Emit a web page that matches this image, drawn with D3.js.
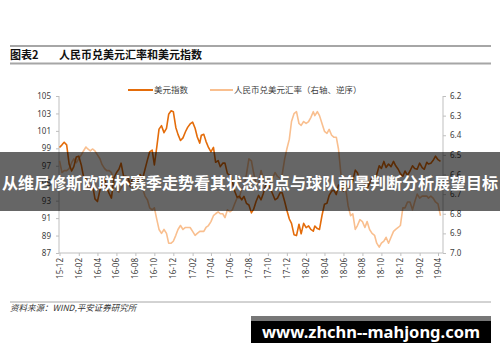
<!DOCTYPE html>
<html>
<head>
<meta charset="utf-8">
<script src="https://cdn.jsdelivr.net/npm/d3@7"></script>
<style>
  body { margin: 0; background: #fff; }
  svg { display: block; font-family: "Noto Sans", "Noto Sans CJK SC", sans-serif; }
</style>
</head>
<body>
<div id="chart"></div>
<script>
// months on the x axis, four readings per month (last month only two)
const months = ["2015-12","2016-01","2016-02","2016-03","2016-04","2016-05","2016-06","2016-07","2016-08","2016-09","2016-10","2016-11",
  "2016-12","2017-01","2017-02","2017-03","2017-04","2017-05","2017-06","2017-07","2017-08","2017-09","2017-10","2017-11",
  "2017-12","2018-01","2018-02","2018-03","2018-04","2018-05","2018-06","2018-07","2018-08","2018-09","2018-10","2018-11",
  "2018-12","2019-01","2019-02","2019-03","2019-04"];

const usdIndex = [
  [99.1, 99.4, 99.7, 99.4], [97.2, 96.4, 96.9, 98.0], [98.1, 97.1, 95.8, 95.5], [94.6, 94.3, 94.9, 93.2],
  [92.9, 94.2, 95.0, 95.5], [94.5, 93.8, 93.3, 95.6], [96.2, 96.6, 97.3, 95.8], [95.8, 95.6, 94.6, 95.7],
  [95.4, 95.2, 96.0, 95.5], [96.6, 97.7, 98.6, 98.8], [97.1, 99.2, 101.2, 101.6], [100.8, 101.3, 102.9, 103.3],
  [103.2, 101.4, 100.6, 99.9], [100.2, 100.9, 101.4, 101.8], [102.0, 101.3, 100.3, 99.6], [100.5, 100.6, 99.8, 99.1],
  [98.6, 99.1, 97.4, 97.6], [96.9, 97.3, 97.3, 96.1], [95.9, 95.2, 94.1, 93.4], [93.5, 93.1, 93.5, 92.7],
  [92.5, 91.6, 92.0, 92.9], [93.6, 93.1, 93.8, 94.8], [94.9, 94.4, 93.8, 93.1], [93.3, 93.9, 93.9, 92.9],
  [91.9, 90.9, 90.4, 89.1], [89.0, 90.3, 89.2, 90.4], [89.9, 90.1, 89.7, 89.5], [90.1, 89.8, 89.7, 91.3],
  [92.6, 92.7, 93.6, 94.1], [94.2, 93.7, 94.8, 94.6], [94.1, 94.8, 94.5, 94.7], [95.3, 96.5, 96.2, 95.2],
  [95.2, 95.0, 94.4, 95.0], [95.7, 95.3, 96.0, 97.0], [96.7, 97.5, 96.8, 97.2], [96.9, 97.5, 97.0, 96.6],
  [96.1, 95.8, 96.4, 95.9], [96.4, 97.0, 96.7, 96.6], [97.3, 96.8, 96.6, 97.4], [97.2, 97.3, 97.6, 98.1],
  [97.7, 97.5]
];

const cnyRate = [
  [6.53, 6.59, 6.58, 6.58], [6.57, 6.54, 6.52, 6.54], [6.52, 6.50, 6.48, 6.46], [6.47, 6.48, 6.47, 6.48],
  [6.50, 6.52, 6.55, 6.57], [6.58, 6.58, 6.59, 6.64], [6.68, 6.69, 6.67, 6.65], [6.64, 6.63, 6.64, 6.67],
  [6.66, 6.67, 6.67, 6.67], [6.71, 6.73, 6.77, 6.78], [6.77, 6.83, 6.88, 6.90], [6.88, 6.90, 6.95, 6.95],
  [6.94, 6.91, 6.88, 6.86], [6.88, 6.87, 6.87, 6.87], [6.89, 6.91, 6.90, 6.89], [6.89, 6.89, 6.87, 6.86],
  [6.84, 6.81, 6.80, 6.79], [6.80, 6.80, 6.82, 6.78], [6.79, 6.78, 6.75, 6.72], [6.72, 6.67, 6.66, 6.60],
  [6.52, 6.53, 6.59, 6.65], [6.65, 6.58, 6.62, 6.64], [6.63, 6.64, 6.62, 6.59], [6.61, 6.62, 6.60, 6.52],
  [6.47, 6.42, 6.33, 6.29], [6.28, 6.34, 6.35, 6.33], [6.34, 6.33, 6.31, 6.28], [6.30, 6.28, 6.30, 6.34],
  [6.38, 6.39, 6.37, 6.40], [6.41, 6.41, 6.47, 6.60], [6.64, 6.68, 6.76, 6.81], [6.80, 6.88, 6.86, 6.83],
  [6.84, 6.87, 6.84, 6.88], [6.90, 6.91, 6.95, 6.97], [6.95, 6.94, 6.92, 6.95], [6.92, 6.89, 6.88, 6.87],
  [6.86, 6.77, 6.77, 6.74], [6.74, 6.78, 6.74, 6.70], [6.72, 6.71, 6.71, 6.71], [6.72, 6.71, 6.72, 6.74],
  [6.75, 6.81]
];

const leftTicks = [87, 89, 91, 93, 95, 97, 99, 101, 103, 105];
const rightTicks = [6.2, 6.3, 6.4, 6.5, 6.6, 6.7, 6.8, 6.9, 7.0];
const xTickLabels = ["15-12","16-02","16-04","16-06","16-08","16-10","16-12","17-02","17-04","17-06","17-08",
  "17-10","17-12","18-02","18-04","18-06","18-08","18-10","18-12","19-02","19-04"];

const width = 500, height = 362;
const plot = { left: 59, right: 443, top: 96, bottom: 253 };

const parseMonth = d3.timeParse("%Y-%m");
const parseTick = d3.timeParse("%y-%m");

function flatten(series) {
  let out = [];
  series.forEach((vals, m) => {
    const start = parseMonth(months[m]);
    vals.forEach((v, i) => {
      const date = d3.timeDay.offset(start, Math.round(i * 7.6));
      out.push({ date: date, value: v });
    });
  });
  return out;
}

const usdData = flatten(usdIndex);
const cnyData = flatten(cnyRate);

const svg = d3.select("#chart").append("svg")
  .attr("width", width)
  .attr("height", height);

// header
svg.append("line").attr("x1", 10).attr("x2", 491).attr("y1", 46).attr("y2", 46)
  .attr("stroke", "#a6a6a6").attr("stroke-width", 2);
svg.append("line").attr("x1", 10).attr("x2", 491).attr("y1", 63.5).attr("y2", 63.5)
  .attr("stroke", "#a6a6a6").attr("stroke-width", 2);
svg.append("text").attr("x", 10).attr("y", 59)
  .style("font-family", "'Noto Sans CJK SC', sans-serif")
  .style("font-size", "11px").style("font-weight", "bold").attr("fill", "#111")
  .text("图表2");
svg.append("text").attr("x", 59).attr("y", 59)
  .style("font-family", "'Noto Sans CJK SC', sans-serif")
  .style("font-size", "11px").style("font-weight", "bold").attr("fill", "#111")
  .text("人民币兑美元汇率和美元指数");

// scales
const x = d3.scaleTime()
  .domain([parseMonth("2015-12"), parseMonth("2019-04")])
  .range([59.5, 438]);
const yLeft = d3.scaleLinear().domain([87, 105]).range([plot.bottom, plot.top]);
const yRight = d3.scaleLinear().domain([6.2, 7.0]).range([plot.top, plot.bottom]);

const axisColor = "#bfbfbf";
const labelColor = "#404040";

// left axis
const gLeft = svg.append("g").attr("transform", `translate(${plot.left},0)`)
  .call(d3.axisLeft(yLeft).tickValues(leftTicks).tickSize(3).tickPadding(5));
// right axis
const gRight = svg.append("g").attr("transform", `translate(${plot.right},0)`)
  .call(d3.axisRight(yRight).tickValues(rightTicks).tickSize(3).tickPadding(4).tickFormat(d3.format(".1f")));
// bottom axis
const gBottom = svg.append("g").attr("transform", `translate(0,${plot.bottom})`)
  .call(d3.axisBottom(x).tickValues(xTickLabels.map(parseTick)).tickSize(3).tickFormat(d3.timeFormat("%y-%m")));

[gLeft, gRight, gBottom].forEach(g => {
  g.select(".domain").remove();
  g.selectAll(".tick line").attr("stroke", axisColor);
  g.selectAll(".tick text").attr("fill", labelColor)
    .style("font-size", "8px").style("font-family", "'Noto Sans', sans-serif");
});
gBottom.selectAll(".tick text")
  .attr("transform", "rotate(-90)")
  .attr("text-anchor", "end")
  .attr("x", -5).attr("y", 0).attr("dy", "0.32em");

svg.append("line").attr("x1", plot.left).attr("x2", plot.left).attr("y1", plot.top).attr("y2", plot.bottom)
  .attr("stroke", axisColor);
svg.append("line").attr("x1", plot.right).attr("x2", plot.right).attr("y1", plot.top).attr("y2", plot.bottom)
  .attr("stroke", axisColor);
svg.append("line").attr("x1", plot.left).attr("x2", plot.right).attr("y1", plot.bottom).attr("y2", plot.bottom)
  .attr("stroke", axisColor);

// lines
const lightColor = "#f9bf8f";
const darkColor = "#e46c0a";

svg.append("path").datum(cnyData)
  .attr("fill", "none").attr("stroke", lightColor).attr("stroke-width", 1.6)
  .attr("stroke-linejoin", "round")
  .attr("d", d3.line().x(d => x(d.date)).y(d => yRight(d.value)));

svg.append("path").datum(usdData)
  .attr("fill", "none").attr("stroke", darkColor).attr("stroke-width", 1.6)
  .attr("stroke-linejoin", "round")
  .attr("d", d3.line().x(d => x(d.date)).y(d => yLeft(d.value)));

// legend
const legend = [
  { label: "美元指数", color: darkColor, x: 128, len: 25 },
  { label: "人民币兑美元汇率（右轴、逆序）", color: lightColor, x: 210, len: 23 }
];
legend.forEach(l => {
  svg.append("line").attr("x1", l.x).attr("x2", l.x + l.len).attr("y1", 90).attr("y2", 90)
    .attr("stroke", l.color).attr("stroke-width", 2);
  svg.append("text").attr("x", l.x + l.len + 1).attr("y", 93)
    .style("font-family", "'Noto Sans CJK SC', sans-serif").style("font-size", "8.5px")
    .attr("fill", labelColor).text(l.label);
});

// footer
svg.append("line").attr("x1", 10).attr("x2", 491).attr("y1", 302).attr("y2", 302)
  .attr("stroke", "#a6a6a6").attr("stroke-width", 1);
svg.append("text").attr("x", 10).attr("y", 311)
  .style("font-family", "'Noto Sans CJK SC', sans-serif").style("font-size", "8.5px")
  .style("font-style", "italic").attr("fill", "#333")
  .text("资料来源：WIND,平安证券研究所");

// overlay banner
svg.append("rect").attr("x", 0).attr("y", 152).attr("width", width).attr("height", 59)
  .attr("fill", "rgba(0,0,0,0.6)");
svg.append("text").attr("x", width / 2).attr("y", 189)
  .attr("text-anchor", "middle")
  .style("font-family", "'Noto Sans CJK SC', sans-serif").style("font-size", "16px")
  .style("font-weight", "bold").attr("fill", "#fff")
  .text("从维尼修斯欧联杯赛季走势看其状态拐点与球队前景判断分析展望目标");

// site box
svg.append("rect").attr("x", 251).attr("y", 316).attr("width", 240).attr("height", 5).attr("fill", "#777");
svg.append("rect").attr("x", 251).attr("y", 321).attr("width", 240).attr("height", 22).attr("fill", "#000");
svg.append("text").attr("x", 371).attr("y", 338)
  .attr("text-anchor", "middle")
  .style("font-family", "'Noto Sans', sans-serif").style("font-size", "16px")
  .style("font-weight", "bold").attr("fill", "#fff")
  .attr("textLength", 218).attr("lengthAdjust", "spacingAndGlyphs")
  .text("www.zhchn--mahjong.com");
</script>
</body>
</html>
